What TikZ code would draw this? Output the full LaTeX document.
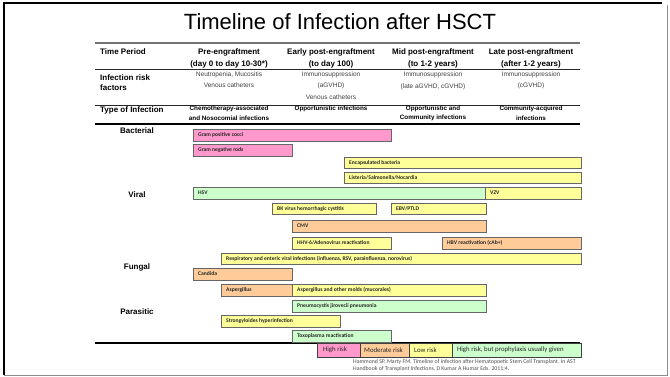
\documentclass[tikz,border=0pt]{standalone}
\usepackage{fontspec}
\setmainfont{Liberation Sans}
\newfontfamily\calfont{Carlito}
\definecolor{pinkr}{HTML}{FF99CC}
\definecolor{orng}{HTML}{FFCC99}
\definecolor{yell}{HTML}{FFFF99}
\definecolor{grn}{HTML}{CCFFCC}
\newcommand{\ibar}[7]{%
  \fill[black!18] (#3+1.2,#4+1.2) rectangle (#5+1.2,#6+1.2);
  \draw[barline, fill=#2] (#3,#4) rectangle (#5,#6);
  \node[bartext] (#1) at (#3+5,{(#4+#6)/2}) {#7};}
\begin{document}
\begin{tikzpicture}[x=1pt,y=-1pt,
  ttl/.style={font=\fontsize{22}{22}\selectfont, inner sep=0},
  hdr/.style={font=\fontsize{8}{8}\selectfont\bfseries, inner sep=0},
  rsk/.style={font=\fontsize{6.5}{6.5}\selectfont, text=black!75, inner sep=0},
  typ/.style={font=\fontsize{6.3}{6.3}\selectfont\bfseries, inner sep=0},
  cat/.style={font=\fontsize{8}{8}\selectfont\bfseries, inner sep=0},
  bartext/.style={font=\calfont\bfseries\fontsize{5.6}{5.6}\selectfont, text=black!85, inner sep=0, anchor=west},
  barline/.style={draw=black!60, line width=0.7pt},
  legbox/.style={draw=black!75, line width=0.8pt},
  legtext/.style={font=\calfont\fontsize{6.8}{6.8}\selectfont, text=black!85, inner sep=0, anchor=west},
  cite/.style={font=\calfont\fontsize{5.8}{5.8}\selectfont, text=black!70, inner sep=0, anchor=west}]
\useasboundingbox (0,0) rectangle (670,376);
% frame
\draw[line width=2.5pt] (4,375) -- (4,3) -- (662,3);
\draw[black!45, line width=0.8pt] (667,5) -- (667,375) -- (4,375);
% title
\node[ttl] (title) at (340,22) {Timeline of Infection after HSCT};
% rules
\draw[black!55, line width=1.8pt] (95,43) -- (580,43);
\draw[black!85, line width=0.8pt] (95,69.5) -- (580,69.5);
\draw[black!85, line width=0.8pt] (95,105.5) -- (580,105.5);
\draw[black, line width=1.3pt] (95,124) -- (580,124);
\draw[black, line width=1.2pt] (95,343) -- (580,343);
% header row
\node[hdr, anchor=west] (tp) at (100,52) {Time Period};
\node[hdr] (pre1) at (229,52) {Pre-engraftment};
\node[hdr] (pre2) at (229,64) {(day 0 to day 10-30*)};
\node[hdr] (ear1) at (331,52) {Early post-engraftment};
\node[hdr] (ear2) at (331,64) {(to day 100)};
\node[hdr] (mid1) at (433,52) {Mid post-engraftment};
\node[hdr] (mid2) at (433,64) {(to 1-2 years)};
\node[hdr] (lat1) at (531,52) {Late post-engraftment};
\node[hdr] (lat2) at (531,64) {(after 1-2 years)};
% risk row
\node[hdr, anchor=west] (irf1) at (100,78) {Infection risk};
\node[hdr, anchor=west] (irf2) at (100,88) {factors};
\node[rsk] (rpre1) at (229,75) {Neutropenia, Mucositis};
\node[rsk] (rpre2) at (229,85) {Venous catheters};
\node[rsk] (rear1) at (331,75) {Immunosuppression};
\node[rsk] (rear2) at (331,86) {(aGVHD)};
\node[rsk] (rear3) at (331,97) {Venous catheters};
\node[rsk] (rmid1) at (433,75) {Immunosuppression};
\node[rsk] (rmid2) at (433,87) {(late aGVHD, cGVHD)};
\node[rsk] (rlat1) at (531,75) {Immunosuppression};
\node[rsk] (rlat2) at (531,86) {(cGVHD)};
% type row
\node[hdr, anchor=west] (toi) at (100,110) {Type of Infection};
\node[typ] (tpre1) at (229,109) {Chemotherapy-associated};
\node[typ] (tpre2) at (229,118) {and Nosocomial infections};
\node[typ] (tear1) at (331,109) {Opportunistic infections};
\node[typ] (tmid1) at (433,109) {Opportunistic and};
\node[typ] (tmid2) at (433,118) {Community infections};
\node[typ] (tlat1) at (531,109) {Community-acquired};
\node[typ] (tlat2) at (531,118) {infections};
% categories
\node[cat] (cbac) at (137,131) {Bacterial};
\node[cat] (cvir) at (137,195) {Viral};
\node[cat] (cfun) at (137,267) {Fungal};
\node[cat] (cpar) at (137,312) {Parasitic};
% bars
\ibar{gpc}{pinkr}{193}{129}{391}{141}{Gram positive cocci}
\ibar{gnr}{pinkr}{193}{144}{292}{156}{Gram negative rods}
\ibar{enc}{yell}{344}{157}{581}{168}{Encapsulated bacteria}
\ibar{lis}{yell}{344}{172}{581}{183}{Listeria/Salmonella/Nocardia}
\ibar{hsv}{grn}{193}{187}{485}{199}{HSV}
\ibar{vzv}{yell}{485}{187}{581}{199}{VZV}
\ibar{bkv}{yell}{272}{203}{376}{214}{BK virus hemorrhagic cystitis}
\ibar{ebv}{yell}{391}{203}{486}{214}{EBV/PTLD}
\ibar{cmv}{orng}{292}{220}{486}{232}{CMV}
\ibar{hhv}{yell}{292}{237}{391}{249}{HHV-6/Adenovirus reactivation}
\ibar{hbv}{orng}{442}{237}{581}{249}{HBV reactivation (cAb+)}
\ibar{rsp}{yell}{221}{253}{581}{264}{Respiratory and enteric viral infections (influenza, RSV, parainfluenza, norovirus)}
\ibar{can}{orng}{193}{268}{292}{280}{Candida}
\ibar{asp}{orng}{221}{284}{292}{296}{Aspergillus}
\ibar{mol}{yell}{292}{284}{486}{296}{Aspergillus and other molds (mucorales)}
\ibar{pcp}{grn}{292}{300}{486}{312}{Pneumocystis jirovecii pneumonia}
\ibar{str}{yell}{221}{315}{340}{327}{Strongyloides hyperinfection}
\ibar{tox}{grn}{292}{330}{391}{342}{Toxoplasma reactivation}
% legend
\draw[legbox, fill=pinkr] (317,343) rectangle (360,357);
\draw[legbox, fill=orng] (360,343) rectangle (409,357);
\draw[legbox, fill=yell] (409,343) rectangle (452,357);
\draw[legbox, fill=grn] (452,343) rectangle (581,357);
\node[legtext] (lhr) at (323,350) {High risk};
\node[legtext] (lmr) at (364,350) {Moderate risk};
\node[legtext] (llr) at (414,350) {Low risk};
\node[legtext] (lpr) at (457,350) {High risk, but prophylaxis usually given};
% citation
\node[cite] (cit1) at (353,361.5) {Hammond SP, Marty FM. Timeline of infection after Hematopoetic Stem Cell Transplant. In AST};
\node[cite] (cit2) at (353,368.5) {Handbook of Transplant Infections, D Kumar A Humar Eds. 2011;4.};
\end{tikzpicture}
\end{document}
